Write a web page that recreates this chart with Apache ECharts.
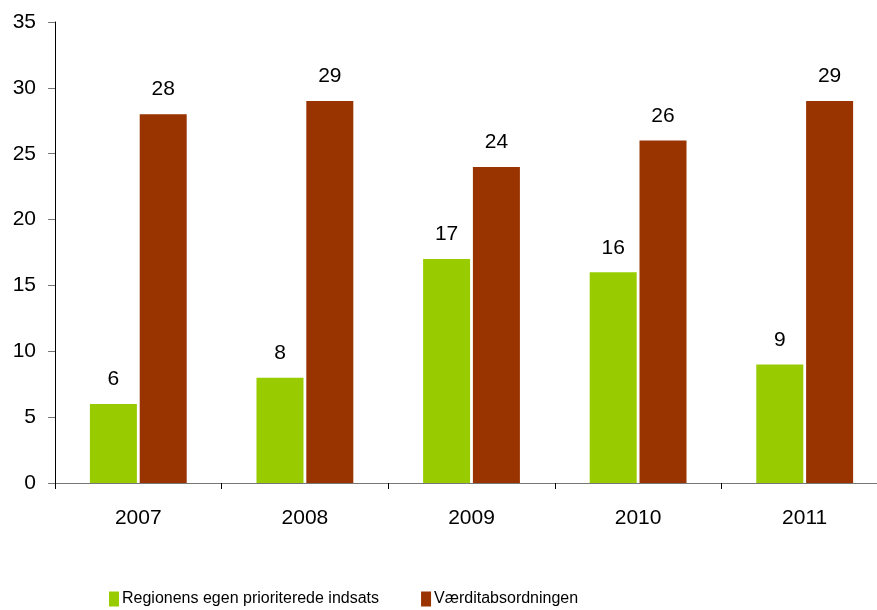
<!DOCTYPE html>
<html>
<head>
<meta charset="utf-8">
<script src="https://cdn.jsdelivr.net/npm/echarts@6/dist/echarts.min.js"></script>
<style>
  html, body { margin: 0; padding: 0; background: #fff; }
  #chart { width: 877px; height: 610px; }
</style>
</head>
<body>
<div id="chart"></div>
<script>
const years = ['2007', '2008', '2009', '2010', '2011'];
const regionValues = [6, 8, 17, 16, 9];
const vaerdiValues = [28, 29, 24, 26, 29];
const seriesNames = ['Regionens egen prioriterede indsats', 'Værditabsordningen'];

const chart = echarts.init(document.getElementById('chart'));

const labelStyle = {
  show: true,
  position: 'top',
  distance: 14,
  color: '#000',
  fontFamily: 'Liberation Sans, Arial, sans-serif',
  fontSize: 21
};

chart.setOption({
  animation: false,
  textStyle: { fontFamily: 'Liberation Sans, Arial, sans-serif' },
  // plot runs past the right edge, like the original
  grid: { left: 55, width: 833, top: 22, bottom: 127, outerBoundsMode: 'none', containLabel: false },
  legend: {
    left: 109,
    top: 591,
    padding: 0,
    itemWidth: 10,
    itemHeight: 15,
    itemGap: 42,
    icon: 'rect',
    textStyle: {
      fontFamily: 'Liberation Sans, Arial, sans-serif',
      fontSize: 16,
      color: '#000',
      padding: [0, 0, 0, -2]
    },
    data: seriesNames
  },
  xAxis: {
    type: 'category',
    data: years,
    axisLine: { lineStyle: { color: '#777', width: 1 } },
    axisTick: { show: true, length: 6, lineStyle: { color: '#000' } },
    axisLabel: { color: '#000', fontSize: 21, margin: 25 }
  },
  yAxis: {
    type: 'value',
    min: 0,
    max: 35,
    interval: 5,
    splitLine: { show: false },
    axisLine: { show: true, lineStyle: { color: '#000', width: 1 } },
    axisTick: { show: true, length: 7, lineStyle: { color: '#777' } },
    axisLabel: { color: '#000', fontSize: 21, margin: 19 }
  },
  series: [
    {
      name: seriesNames[0],
      type: 'bar',
      data: regionValues,
      barWidth: 47,
      barGap: '6%',
      itemStyle: { color: '#99CC00' },
      label: labelStyle
    },
    {
      name: seriesNames[1],
      type: 'bar',
      data: vaerdiValues,
      barWidth: 47,
      barGap: '6%',
      itemStyle: { color: '#993300' },
      label: labelStyle
    }
  ]
});
</script>
</body>
</html>
